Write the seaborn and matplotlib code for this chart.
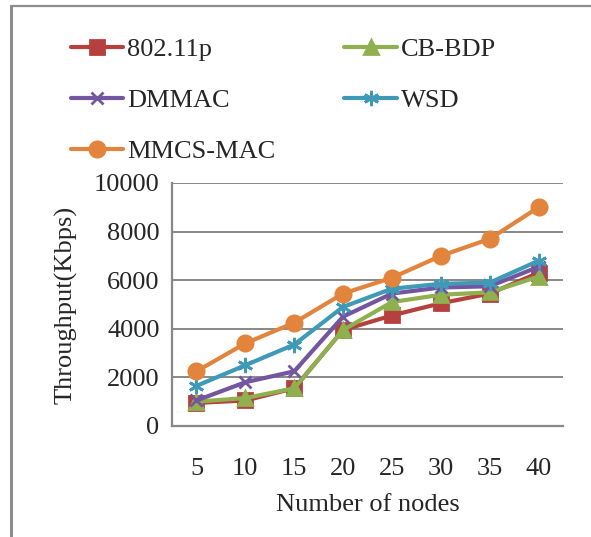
import matplotlib
matplotlib.use("Agg")
import matplotlib.pyplot as plt
from matplotlib.lines import Line2D
import seaborn as sns
import numpy as np

# Data: throughput (Kbps) versus number of nodes
nodes = ["5", "10", "15", "20", "25", "30", "35", "40"]
series_names = ["802.11p", "CB-BDP", "DMMAC", "WSD", "MMCS-MAC"]
thr_80211p = [950, 1050, 1550, 3950, 4550, 5050, 5450, 6300]
thr_cbbdp = [1000, 1150, 1550, 3950, 5100, 5400, 5500, 6150]
thr_dmmac = [1050, 1800, 2250, 4500, 5450, 5700, 5750, 6550]
thr_wsd = [1650, 2500, 3350, 4900, 5650, 5850, 5900, 6800]
thr_mmcs = [2250, 3400, 4250, 5450, 6100, 7000, 7700, 9000]
y_ticks = [0, 2000, 4000, 6000, 8000, 10000]

values = [thr_80211p, thr_cbbdp, thr_dmmac, thr_wsd, thr_mmcs]
colors = ["#B5403D", "#8FB04F", "#7456A0", "#3F9AB8", "#E3843C"]
markers = ["s", "^", "x", (6, 2, 0), "o"]
msizes = [9.5, 10.5, 9, 11, 11]

sns.set_theme(style="white")
plt.rcParams["font.family"] = ["Liberation Serif", "DejaVu Serif"]

W, H = 591, 537
fig = plt.figure(figsize=(W / 100, H / 100), dpi=100)

# axes placed in pixel units
left, right, top, bottom = 172, 563, 183, 426
ax = fig.add_axes([left / W, (H - bottom) / H, (right - left) / W, (bottom - top) / H])

pos = np.arange(len(nodes))
for name, vals, c, m, ms in zip(series_names, values, colors, markers, msizes):
    sns.lineplot(x=pos, y=vals, ax=ax, color=c, linewidth=3.0, marker=m,
                 markersize=ms, markeredgecolor=c, markerfacecolor=c,
                 markeredgewidth=2.0, label=name, legend=False, zorder=3)

grid_c = "#888888"
ax.set_xlim(-0.5, len(nodes) - 0.5)
ax.set_ylim(0, 10000)
ax.set_yticks(y_ticks)
ax.set_yticklabels([str(v) for v in y_ticks])
ax.yaxis.grid(True, color=grid_c, linewidth=1.4)
ax.set_axisbelow(True)

# category axis: ticks on boundaries, labels centered
ax.set_xticks(np.arange(-0.5, len(nodes), 1.0))
ax.set_xticklabels([])
ax.set_xticks(pos, minor=True)
ax.set_xticklabels(nodes, minor=True)
ax.tick_params(axis="x", which="minor", length=0, pad=23, labelsize=19)
ax.tick_params(axis="x", which="major", length=6, width=1.4, color=grid_c, direction="out")
ax.tick_params(axis="y", length=6, width=1.4, color=grid_c, direction="out", pad=3, labelsize=19)

for s in ["top", "right"]:
    ax.spines[s].set_visible(False)
for s in ["left", "bottom"]:
    ax.spines[s].set_color(grid_c)
    ax.spines[s].set_linewidth(1.6)

ax.set_xlabel("Number of nodes", fontsize=19, labelpad=10)
ax.set_ylabel("Throughput(Kbps)", fontsize=19)
ax.yaxis.set_label_coords((78 - left) / (right - left), 0.5)

# legend: two columns, row-major order
handles = {n: Line2D([], [], color=c, marker=m, markersize=ms, markeredgecolor=c,
                     markerfacecolor=c, markeredgewidth=2.0, linewidth=3.0)
           for n, c, m, ms in zip(series_names, colors, markers, msizes)}
order = ["802.11p", "DMMAC", "MMCS-MAC", "CB-BDP", "WSD"]
fig.legend([handles[n] for n in order], order, ncol=2, frameon=False,
           loc="upper left", bbox_to_anchor=(60 / W, 1 - 27 / H),
           fontsize=19, handlelength=2.0, handletextpad=0.15,
           columnspacing=2.6, labelspacing=1.05, borderaxespad=0)

# partial outer frame
fig.add_artist(Line2D([11 / W, 11 / W], [0, 1 - 6 / H], color="#8C8C8C", linewidth=2.2,
                      transform=fig.transFigure))
fig.add_artist(Line2D([11 / W, 1], [1 - 6 / H, 1 - 6 / H], color="#8C8C8C", linewidth=1.6,
                      transform=fig.transFigure))

fig.savefig("out.png", dpi=100, facecolor="white")
